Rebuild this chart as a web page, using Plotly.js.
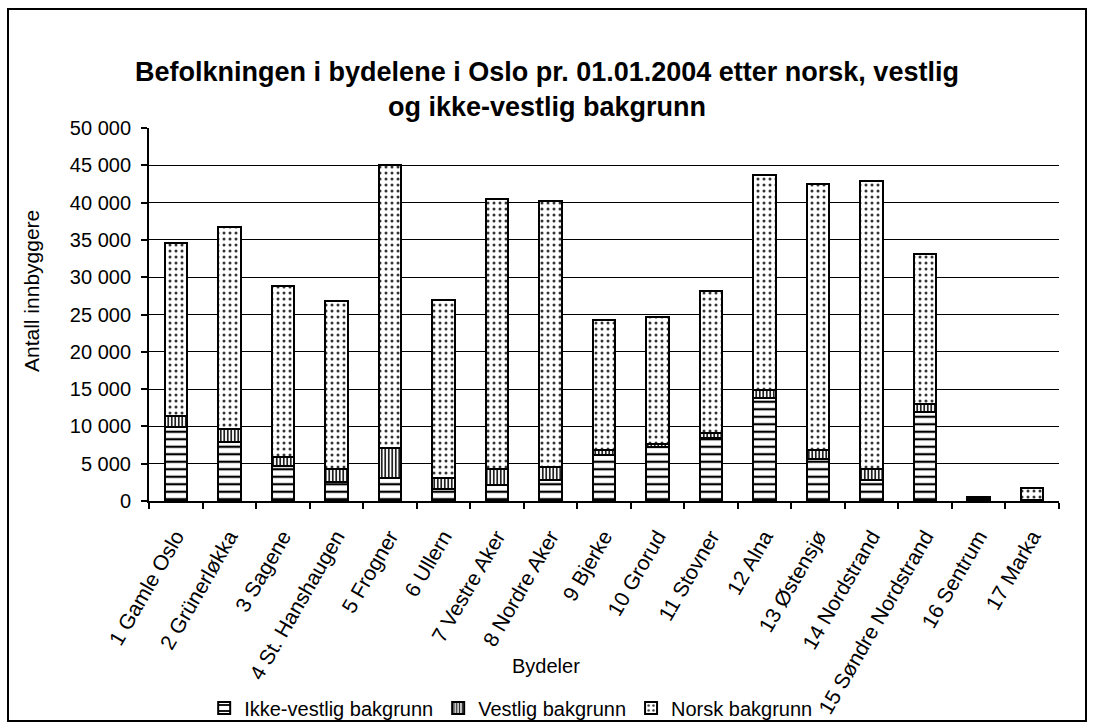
<!DOCTYPE html>
<html>
<head>
<meta charset="utf-8">
<script src="https://cdn.plot.ly/plotly-3.0.1.min.js"></script>
<style>
  html, body { margin: 0; padding: 0; background: #fff; }
  #chart { width: 1094px; height: 728px; position: absolute; left: 0; top: 0; }
  #frame { position: absolute; left: 7px; top: 8px; width: 1080px; height: 714px;
           border: 2px solid #000; box-sizing: border-box; pointer-events: none; }
</style>
</head>
<body>
<div id="chart"></div>
<div id="frame"></div>
<script>
const categories = ["1 Gamle Oslo", "2 Grünerløkka", "3 Sagene", "4 St. Hanshaugen", "5 Frogner",
  "6 Ullern", "7 Vestre Aker", "8 Nordre Aker", "9 Bjerke", "10 Grorud", "11 Stovner", "12 Alna",
  "13 Østensjø", "14 Nordstrand", "15 Søndre Nordstrand", "16 Sentrum", "17 Marka"];
const ikkeVestlig = [9900, 7850, 4700, 2500, 3100, 1600, 2150, 2800, 6150, 7250, 8500, 13850, 5600, 2800, 11950, 200, 100];
const vestlig     = [1500, 1800, 1150, 1850, 4000, 1450, 2200, 1700, 650, 450, 650, 1050, 1200, 1500, 1000, 100, 50];
const norsk       = [23200, 27100, 23000, 22400, 37950, 23900, 36200, 35750, 17400, 16900, 18950, 28750, 35700, 38600, 20200, 300, 1550];
const seriesNames = ["Ikke-vestlig bakgrunn", "Vestlig bakgrunn", "Norsk bakgrunn"];

const FONT = "Liberation Sans, Arial, sans-serif";
const outline = {color: "#000", width: 2};

const traces = [
  {type: "bar", name: seriesNames[0], x: categories, y: ikkeVestlig,
   marker: {color: "#fff", line: outline,
            pattern: {shape: "-", fgcolor: "#000", bgcolor: "#fff", size: 7.5, solidity: 0.3}}},
  {type: "bar", name: seriesNames[1], x: categories, y: vestlig,
   marker: {color: "#fff", line: outline,
            pattern: {shape: "|", fgcolor: "#222", bgcolor: "#fff", size: 3.5, solidity: 0.5}}},
  {type: "bar", name: seriesNames[2], x: categories, y: norsk,
   marker: {color: "#fff", line: outline,
            pattern: {shape: ".", fgcolor: "#333", bgcolor: "#fff", size: 6, solidity: 0.2}}}
];

const layout = {
  width: 1094, height: 728,
  margin: {l: 149, r: 35, t: 128, b: 227, autoexpand: false},
  paper_bgcolor: "#fff", plot_bgcolor: "#fff",
  barmode: "stack", bargap: 0.58,
  separators: ", ",
  font: {family: FONT, size: 20, color: "#000"},
  title: {text: "<b>Befolkningen i bydelene i Oslo pr. 01.01.2004 etter norsk, vestlig<br>og ikke-vestlig bakgrunn</b>",
          font: {family: FONT, size: 27, color: "#000"},
          x: 0.5, xref: "container", xanchor: "center", y: 1 - 81 / 728,
          yref: "container", yanchor: "middle"},
  xaxis: {type: "category", showline: true, linecolor: "#000", linewidth: 2,
          ticks: "outside", ticklen: 6, tickwidth: 2, tickcolor: "#000", tickson: "boundaries",
          tickangle: -60, tickfont: {family: FONT, size: 21}, showgrid: false, automargin: false,
          ticklabelstandoff: 13},
  yaxis: {range: [0, 50000], dtick: 5000, tick0: 0, separatethousands: true, tickformat: ",d",
          showline: true, linecolor: "#000", linewidth: 2,
          ticks: "outside", ticklen: 6, tickwidth: 2, tickcolor: "#000",
          showgrid: true, gridcolor: "#000", gridwidth: 1, zeroline: false,
          tickfont: {family: FONT, size: 20}, automargin: false, ticklabelstandoff: 6},
  showlegend: true,
  legend: {orientation: "h", x: 0.398, xanchor: "center", y: (501 - 708) / 373, yanchor: "middle",
           font: {family: FONT, size: 20}, traceorder: "normal", itemwidth: 30,
           bgcolor: "rgba(0,0,0,0)"},
  annotations: [
    {text: "Antall innbyggere", xref: "paper", yref: "paper",
     x: (31 - 149) / 910, y: (501 - 291) / 373, textangle: -90, showarrow: false,
     xanchor: "center", yanchor: "middle", font: {family: FONT, size: 21}},
    {text: "Bydeler", xref: "paper", yref: "paper",
     x: (546 - 149) / 910, y: (501 - 666) / 373, showarrow: false,
     xanchor: "center", yanchor: "middle", font: {family: FONT, size: 20}}
  ]
};

Plotly.newPlot("chart", traces, layout, {displayModeBar: false, staticPlot: true});
</script>
</body>
</html>
